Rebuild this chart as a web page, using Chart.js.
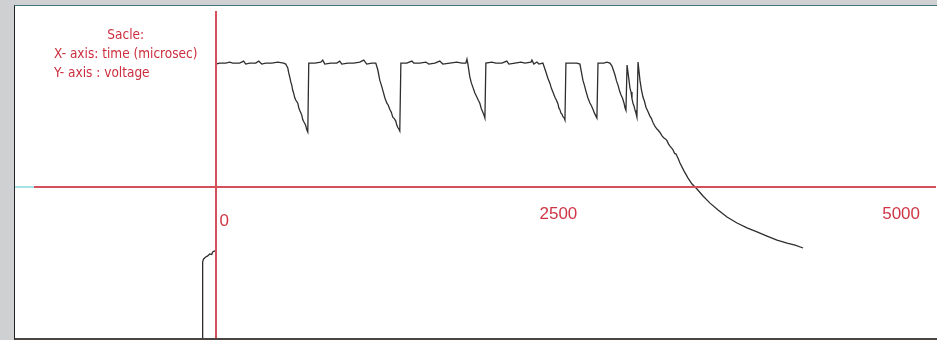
<!DOCTYPE html>
<html>
<head>
<meta charset="utf-8">
<script src="https://cdn.jsdelivr.net/npm/chart.js@4"></script>
<style>
  html, body { margin: 0; padding: 0; }
  body { width: 937px; height: 340px; background: #cfd0d1; position: relative; overflow: hidden; }
  #frame {
    position: absolute; left: 14px; top: 5px;
    width: 922px; height: 332px;
    background: #fff;
    border-left: 1px solid #222;
    border-top: 1px solid #3f7478;
    border-bottom: 2px solid #4a4540;
  }
  #plot { position: absolute; left: 0; top: 0; }
  #note {
    position: absolute; left: 39px; top: 19px;
    font-family: "DejaVu Sans Condensed", "DejaVu Sans", sans-serif;
    font-size: 13.5px; line-height: 19px; color: #cc2e3e;
    white-space: nowrap;
  }
  #note .head { text-align: center; }
</style>
</head>
<body>
<div id="frame">
  <canvas id="plot" width="922" height="332"></canvas>
  <div id="note">
    <div class="head">Sacle:</div>
    <div>X- axis: time (microsec)</div>
    <div>Y- axis : voltage</div>
  </div>
</div>
<script>
// zaman (mikrosaniye) ve gerilim değerleri
const timeUs = [
  -95, -95, -88, -73, -58, -44, -29, -22, -7, 0,
  0, 29, 73, 102, 124, 175, 204, 219, 248, 292, 314, 336, 365, 409, 453, 496, 511,
  526, 533, 540, 548, 555, 562, 569, 577, 584, 599, 606, 613, 621, 628, 635, 642, 650, 657, 664, 672,
  679, 723, 767, 781, 796, 840, 883, 905, 920, 964, 1007, 1051, 1080, 1102, 1139, 1168,
  1183, 1197, 1208, 1219, 1234, 1248, 1259, 1270, 1281, 1292, 1303, 1314, 1321, 1329, 1336, 1343,
  1351, 1394, 1431, 1445, 1489, 1533, 1555, 1599, 1635, 1657, 1708, 1759, 1796, 1825, 1833, 1840,
  1854, 1865, 1876, 1890, 1905, 1916, 1927, 1938, 1949, 1957, 1964,
  1971, 2015, 2044, 2088, 2124, 2139, 2183, 2227, 2256, 2300, 2307, 2321, 2343, 2358, 2387,
  2409, 2424, 2438, 2449, 2460, 2475, 2486, 2497, 2504, 2511, 2519, 2526, 2533, 2541, 2548,
  2555, 2599, 2635, 2657,
  2679, 2690, 2701, 2715, 2730, 2741, 2752, 2763, 2774, 2781,
  2789, 2832, 2854, 2876, 2891,
  2913, 2924, 2935, 2946, 2957, 2968, 2979, 2986, 2993,
  3001, 3015, 3022, 3030, 3037, 3044, 3051, 3059, 3066, 3073,
  3081, 3095, 3106, 3117, 3128, 3139, 3154, 3168, 3179, 3190, 3204, 3219, 3230, 3241, 3256, 3270,
  3281, 3292, 3303, 3314, 3325, 3336, 3347, 3358, 3373, 3387,
  3416, 3446, 3475, 3511, 3555, 3606, 3665, 3730, 3803, 3876, 3949, 4022, 4095, 4168, 4227, 4285
];
const voltage = [
  -6.4, -3.02, -2.9, -2.82, -2.78, -2.7, -2.72, -2.62, -2.58, -2.58,
  4.96, 5.0, 5.0, 5.04, 5.0, 5.0, 5.08, 4.96, 5.0, 5.0, 5.08, 4.96, 5.0, 5.0, 5.04, 5.0, 4.96,
  4.8, 4.6, 4.44, 4.24, 4.11, 3.9, 3.79, 3.6, 3.51, 3.38, 3.2, 3.1, 3.0, 2.9, 2.72, 2.64, 2.56, 2.48, 2.32, 2.22,
  5.0, 5.0, 5.04, 5.12, 4.96, 5.0, 5.0, 5.08, 4.96, 5.0, 5.0, 5.04, 5.12, 4.96, 5.0, 5.0,
  4.72, 4.31, 4.12, 3.91, 3.6, 3.39, 3.3, 3.14, 3.02, 2.82, 2.76, 2.66, 2.5, 2.4, 2.34, 2.26,
  5.0, 5.0, 5.08, 5.0, 5.0, 5.04, 4.96, 5.0, 5.08, 4.96, 5.0, 5.04, 5.0, 5.0, 5.16, 4.96,
  4.44, 4.2, 4.03, 3.8, 3.63, 3.5, 3.38, 3.16, 3.02, 2.9, 2.78,
  5.0, 5.04, 5.0, 5.0, 5.08, 4.96, 5.0, 5.04, 5.0, 5.04, 5.12, 4.96, 5.04, 4.96, 5.0,
  4.64, 4.38, 4.19, 3.98, 3.83, 3.62, 3.5, 3.35, 3.18, 3.12, 2.98, 2.94, 2.84, 2.8, 2.7,
  5.0, 5.0, 5.0, 4.96,
  4.31, 4.1, 3.87, 3.6, 3.39, 3.28, 3.14, 2.98, 2.86, 2.78,
  5.0, 5.0, 5.04, 5.0, 4.88,
  4.52, 4.28, 4.11, 3.88, 3.71, 3.58, 3.38, 3.2, 3.1,
  4.92, 4.31, 4.0, 3.83, 3.56, 3.38, 3.28, 3.1, 2.98, 2.82,
  5.04, 4.31, 3.92, 3.63, 3.46, 3.22, 3.04, 2.86, 2.76, 2.6, 2.46, 2.34, 2.28, 2.2, 2.06, 1.98,
  1.94, 1.87, 1.74, 1.65, 1.58, 1.5, 1.36, 1.33, 1.16, 0.97,
  0.65, 0.36, 0.12, -0.08, -0.36, -0.65, -0.93, -1.21, -1.45, -1.65, -1.81, -1.98, -2.14, -2.26, -2.34, -2.46
];
const xTicks = [0, 2500, 5000];
const xRange = [-1318, 5249];
const yRange = [-6.09, 7.06];

const RED = '#cf3645';
const AXIS_RED = '#d4505b';

const points = timeUs.map((t, i) => ({ x: t, y: voltage[i] }));

// eksenin solundaki küçük açık mavi parça
const leftStub = {
  id: 'leftStub',
  beforeDatasetsDraw(chart) {
    const y = chart.scales.y.getPixelForValue(0);
    const ctx = chart.ctx;
    ctx.save();
    ctx.strokeStyle = '#a9e3ea';
    ctx.lineWidth = 2;
    ctx.beginPath();
    ctx.moveTo(0, y);
    ctx.lineTo(chart.chartArea.left, y);
    ctx.stroke();
    ctx.restore();
  }
};

new Chart(document.getElementById('plot'), {
  type: 'scatter',
  data: {
    datasets: [{
      data: points,
      showLine: true,
      borderColor: '#2e2e2e',
      borderWidth: 1.3,
      pointRadius: 0,
      tension: 0
    }]
  },
  options: {
    responsive: false,
    animation: false,
    devicePixelRatio: 1,
    layout: { padding: { left: 20, top: 6, right: 0, bottom: 0 } },
    plugins: { legend: { display: false }, tooltip: { enabled: false } },
    scales: {
      x: {
        type: 'linear',
        min: xRange[0],
        max: xRange[1],
        position: { y: 0 },
        afterFit: s => { s.height = 0; },
        afterBuildTicks: s => { s.ticks = xTicks.map(v => ({ value: v })); },
        grid: { display: true, drawOnChartArea: false, drawTicks: false },
        border: { display: true, color: AXIS_RED, width: 2, z: 1 },
        ticks: {
          color: RED,
          padding: 17,
          maxRotation: 0,
          autoSkip: false,
          // "0" biraz aşağıda duruyor
          font: c => ({
            family: '"Liberation Sans", Arial, sans-serif',
            size: 17,
            lineHeight: c.tick && c.tick.value === 0 ? 2.02 : 1.2
          }),
          callback: v => v === 0 ? '\u2002\u20020' : String(v)
        }
      },
      y: {
        type: 'linear',
        min: yRange[0],
        max: yRange[1],
        position: { x: 0 },
        afterFit: s => { s.width = 0; },
        grid: { display: true, drawOnChartArea: false, drawTicks: false },
        border: { display: true, color: AXIS_RED, width: 2, z: 1 },
        ticks: { display: false }
      }
    }
  },
  plugins: [leftStub]
});
</script>
</body>
</html>
